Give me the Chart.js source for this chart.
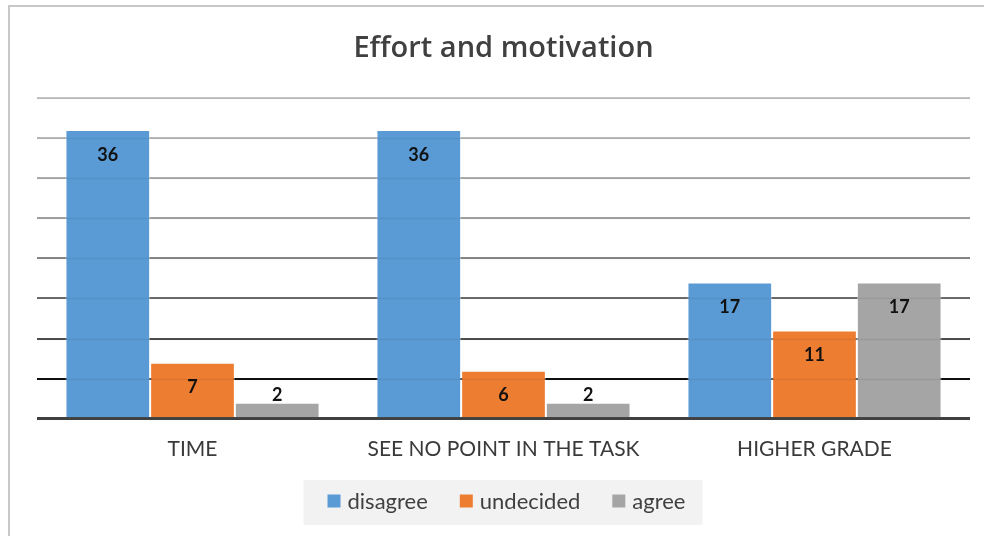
<!DOCTYPE html>
<html>
<head>
<meta charset="utf-8">
<script src="https://cdn.jsdelivr.net/npm/chart.js@4.4.1/dist/chart.umd.min.js"></script>
<style>
  html, body { margin: 0; padding: 0; background: #fff; }
  #wrap { position: relative; width: 984px; height: 536px; overflow: hidden; }
  #frame { position: absolute; left: 8px; top: 5px; width: 990px; height: 540px;
           border-left: 2px solid #c8c8c8; border-top: 2px solid #c8c8c8; box-sizing: border-box; }
  canvas { position: absolute; left: 0; top: 0; }
</style>
</head>
<body>
<div id="wrap">
  <div id="frame"></div>
  <canvas id="c" width="984" height="536"></canvas>
</div>
<script>
const categories = ["TIME", "SEE NO POINT IN THE TASK", "HIGHER GRADE"];
const disagree = [36, 36, 17];
const undecided = [7, 6, 11];
const agree = [2, 2, 17];
const seriesNames = ["disagree", "undecided", "agree"];
const colors = ["#5B9BD5", "#ED7D31", "#A5A5A5"];
const yMin = 0, yMax = 40, yStep = 5;

const FONT = "Lato, 'Open Sans', sans-serif";

const gridColors = {0: "#404040", 5: "#111111", 10: "#505050", 15: "#6e6e6e", 20: "#8a8a8a",
                    25: "#a6a6a6", 30: "#b0b0b0", 35: "#bcbcbc", 40: "#c8c8c8"};

// Custom legend with light grey background (Excel-style)
const customLegend = {
  id: "customLegend",
  afterDraw(chart) {
    const ctx = chart.ctx;
    const area = chart.chartArea;
    const box = 13, gapText = 7, gapItem = 32;
    const font = "22px " + FONT;
    ctx.save();
    ctx.font = font;
    const items = chart.data.datasets.map(ds => ({
      text: ds.label, color: ds.backgroundColor, w: ctx.measureText(ds.label).width
    }));
    let total = 0;
    items.forEach((it, i) => { total += box + gapText + it.w + (i < items.length - 1 ? gapItem : 0); });
    const cx = (area.left + area.right) / 2 + 3;
    let x = cx - total / 2;
    const cy = 501;
    ctx.fillStyle = "#F2F2F2";
    ctx.fillRect(x - 24, cy - 21, total + 41, 45);
    ctx.textBaseline = "middle";
    ctx.textAlign = "left";
    items.forEach(it => {
      ctx.fillStyle = it.color;
      ctx.fillRect(x, cy - box / 2, box, box);
      x += box + gapText;
      ctx.fillStyle = "#404040";
      ctx.fillText(it.text, x, cy + 1);
      x += it.w + gapItem;
    });
    ctx.restore();
  }
};

const dataLabels = {
  id: "dataLabels",
  afterDatasetsDraw(chart) {
    const ctx = chart.ctx;
    ctx.save();
    ctx.font = "bold 18px " + FONT;
    ctx.textAlign = "center";
    ctx.textBaseline = "middle";
    ctx.fillStyle = "#111";
    chart.data.datasets.forEach((ds, i) => {
      const meta = chart.getDatasetMeta(i);
      meta.data.forEach((bar, j) => {
        const v = ds.data[j];
        const h = bar.base - bar.y;
        const y = h > 40 ? bar.y + 25 : bar.y - 8;
        ctx.fillText(String(v), bar.x, y);
      });
    });
    ctx.restore();
  }
};

const gridOverlay = {
  id: "gridOverlay",
  afterDatasetsDraw(chart) {
    const ys = chart.scales.y, area = chart.chartArea, ctx = chart.ctx;
    ctx.save();
    ctx.strokeStyle = "rgba(0,0,0,0.07)";
    ctx.lineWidth = 1.5;
    ys.ticks.forEach(t => {
      if (t.value === 0) return;
      const y = Math.round(ys.getPixelForValue(t.value)) + 0.5;
      ctx.beginPath(); ctx.moveTo(area.left, y); ctx.lineTo(area.right, y); ctx.stroke();
    });
    ctx.restore();
  }
};

new Chart(document.getElementById("c"), {
  type: "bar",
  data: {
    labels: categories,
    datasets: [disagree, undecided, agree].map((d, i) => ({
      label: seriesNames[i],
      data: d,
      backgroundColor: colors[i],
      borderColor: "rgba(255,255,255,0.45)",
      borderWidth: 1,
      categoryPercentage: 0.817,
      barPercentage: 1.0
    }))
  },
  options: {
    responsive: false,
    animation: false,
    events: [],
    layout: { padding: { left: 37, right: 14, top: 0, bottom: 56 } },
    plugins: {
      title: {
        display: true,
        text: "Effort and motivation",
        color: "#404040",
        font: { family: "'Open Sans', Lato, sans-serif", size: 29, weight: 600 },
        padding: { top: 31, bottom: 32 }
      },
      legend: { display: false },
      tooltip: { enabled: false }
    },
    scales: {
      x: {
        grid: { display: false, drawTicks: false },
        border: { display: false },
        ticks: { color: "#3a3a3a", font: { family: FONT, size: 21 }, padding: 18 }
      },
      y: {
        min: yMin, max: yMax,
        afterFit(scale) { scale.width = 0; },
        ticks: { display: false, stepSize: yStep },
        border: { display: false },
        grid: {
          drawTicks: false,
          color: ctx => gridColors[ctx.tick.value] || "#c8c8c8",
          lineWidth: ctx => ctx.tick.value === 0 ? 3 : 2
        }
      }
    }
  },
  plugins: [customLegend, dataLabels, gridOverlay]
});
</script>
</body>
</html>
